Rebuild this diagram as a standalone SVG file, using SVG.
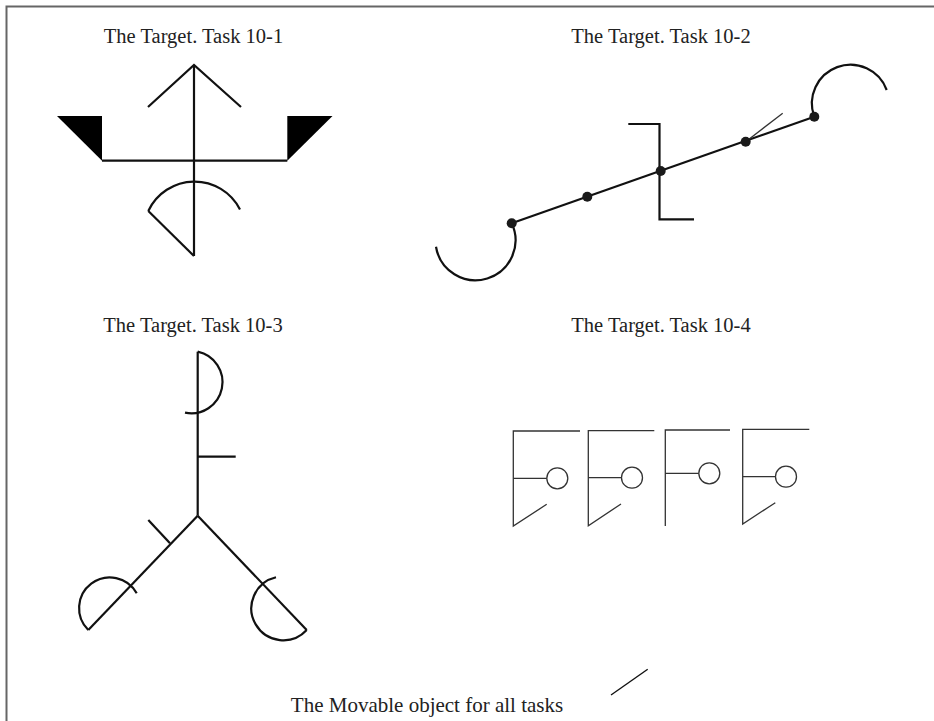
<svg xmlns="http://www.w3.org/2000/svg" width="934" height="721" viewBox="0 0 934 721">
<style>
.t{font-family:"Liberation Serif","Times New Roman",serif;font-size:20.5px;fill:#222;text-anchor:middle}
.k{fill:none;stroke:#111;stroke-width:2.2;stroke-linecap:butt;stroke-linejoin:miter}
.n{fill:none;stroke:#333;stroke-width:1.3}
.f{fill:#000;stroke:none}
.d{fill:#1a1a1a}
</style>
<rect width="934" height="721" fill="#fff"/>
<path d="M6.5 721 V6.5 H934" fill="none" stroke="#666" stroke-width="2"/>

<g id="task10-1">
<text class="t" x="193.5" y="43">The Target. Task 10-1</text>
<path class="k" d="M194 65 V256"/>
<path class="k" d="M148 107 L194 65 L241 107"/>
<path class="k" d="M102 160.7 H287.3"/>
<polygon class="f" points="57,116 102,116 102,160.7"/>
<polygon class="f" points="287.3,116 332.5,116 287.3,160.7"/>
<path class="k" d="M148.3 211 A51 51 0 0 1 240 209.5"/>
<path class="k" d="M148.3 211 L194 256"/>
</g>

<g id="task10-2">
<text class="t" x="661" y="43">The Target. Task 10-2</text>
<path class="k" d="M511.7 223.3 L814.3 116.7"/>
<path class="k" d="M628.3 124 H659.5 V219.3 H694"/>
<path class="n" d="M745.7 141.7 L782.7 113.3"/>
<path class="k" d="M511.7 223.3 A40 40 0 1 1 436 246.7"/>
<path class="k" d="M814.3 116.7 A38 38 0 1 1 886.7 90"/>
<circle class="d" cx="511.7" cy="223.3" r="5"/>
<circle class="d" cx="587.3" cy="196.7" r="5"/>
<circle class="d" cx="660.7" cy="171" r="5"/>
<circle class="d" cx="745.7" cy="141.7" r="5"/>
<circle class="d" cx="814.3" cy="116.7" r="5"/>
</g>

<g id="task10-3">
<text class="t" x="193" y="331.7">The Target. Task 10-3</text>
<path class="k" d="M197.7 351.7 V515.7"/>
<path class="k" d="M197.7 351.7 A30 30 0 0 1 185 412.7"/>
<path class="k" d="M197.7 456.7 H235.7"/>
<path class="k" d="M197.7 515.7 L88.3 630"/>
<path class="k" d="M197.7 515.7 L306.7 630"/>
<path class="k" d="M148.3 520 L170 543.3"/>
<path class="k" d="M88.3 630 A30.7 30.7 0 1 1 136.7 593.3"/>
<path class="k" d="M306.7 630 A31.9 31.9 0 1 1 276 577.3"/>
</g>

<g id="task10-4">
<text class="t" x="661" y="331.7">The Target. Task 10-4</text>
<g id="fig4a">
<path class="n" d="M580 431 H513.3 V526 L546.7 504.3 M513.3 478.3 H546.8"/>
<circle class="n" cx="557.3" cy="478.3" r="10.5"/>
</g>
<g id="fig4b">
<path class="n" d="M654.3 430.7 H588.3 V525.7 L621 504 M588.3 477.7 H621.5"/>
<circle class="n" cx="632" cy="477.7" r="10.5"/>
</g>
<g id="fig4c">
<path class="n" d="M730 430 H665.3 V526 M665.3 473.3 H698.8"/>
<circle class="n" cx="709.3" cy="473.3" r="10.5"/>
</g>
<g id="fig4d">
<path class="n" d="M809.3 429.3 H742.7 V524 L775.3 502.7 M742.7 476.7 H775.5"/>
<circle class="n" cx="786" cy="476.7" r="10.5"/>
</g>
</g>

<g id="movable">
<text class="t" x="427" y="712.3" style="font-size:21px">The Movable object for all tasks</text>
<path class="n" d="M611 695 L647.7 669.3" style="stroke:#111;stroke-width:1.4"/>
</g>
</svg>
